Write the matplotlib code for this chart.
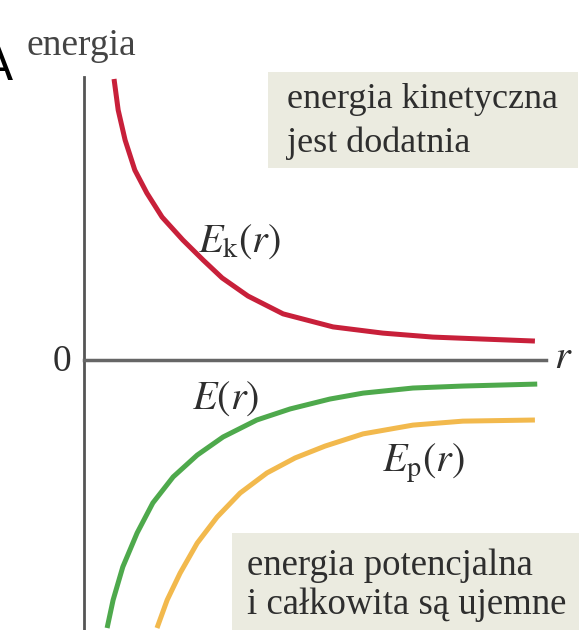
import matplotlib.pyplot as plt
from matplotlib.patches import Rectangle

plt.rcParams['mathtext.fontset'] = 'stix'
plt.rcParams['font.family'] = 'Liberation Serif'

# energy curves, r and energy in arbitrary units
r_k = [0.65, 0.74, 0.89, 1.10, 1.36, 1.69, 2.14, 2.58, 2.99, 3.55, 4.31, 5.39, 6.47, 7.55, 8.64, 9.76]
e_k = [9.93, 8.83, 7.77, 6.71, 5.90, 5.05, 4.24, 3.53, 2.90, 2.26, 1.63, 1.17, 0.95, 0.81, 0.74, 0.67]

r_tot = [0.50, 0.63, 0.84, 1.15, 1.49, 1.93, 2.45, 3.01, 3.74, 4.46, 5.32, 6.04, 7.12, 8.20, 9.81]
e_tot = [-9.47, -8.48, -7.31, -6.11, -5.05, -4.13, -3.36, -2.72, -2.12, -1.73, -1.38, -1.17, -0.99, -0.92, -0.85]

r_p = [1.58, 1.80, 2.08, 2.45, 2.88, 3.38, 3.96, 4.57, 5.22, 6.04, 7.12, 8.20, 9.76]
e_p = [-9.47, -8.48, -7.53, -6.47, -5.55, -4.70, -3.99, -3.46, -3.04, -2.61, -2.30, -2.16, -2.12]

W, H = 579, 630


def fx(px):
    return px / W


def fy(py):
    return 1 - py / H


fig = plt.figure(figsize=(W / 100, H / 100), dpi=100)
ax = fig.add_axes([fx(84), 0, (546 - 84) / W, (630 - 77) / H])
ax.set_xlim(0, 10)
ax.set_ylim(-9.54, 10.0)

style = dict(lw=3.6, solid_capstyle='butt', solid_joinstyle='round')
ax.plot(r_k, e_k, color='#c8203a', **style)
ax.plot(r_tot, e_tot, color='#4ea94c', **style)
ax.plot(r_p, e_p, color='#f2b94d', **style)

for side in ['top', 'right']:
    ax.spines[side].set_visible(False)
ax.spines['bottom'].set_position(('data', 0))
ax.spines['left'].set_color('#555555')
ax.spines['bottom'].set_color('#666666')
ax.spines['left'].set_linewidth(2)
ax.spines['bottom'].set_linewidth(2.5)
ax.set_xticks([])
ax.set_yticks([])
ax.patch.set_alpha(0)

txt = '#2e2e2e'
ax.text(2.47, 4.17, r'$E_\mathrm{k}(r)$', fontsize=29, color=txt, ha='left', va='center')
ax.text(2.33, -1.38, r'$E(r)$', fontsize=29, color=txt, ha='left', va='center')
ax.text(6.45, -3.67, r'$E_\mathrm{p}(r)$', fontsize=29, color=txt, ha='left', va='center')

# shaded text boxes
fig.patches.append(Rectangle((fx(268), fy(168)), (578 - 268) / W, (168 - 72) / H,
                             transform=fig.transFigure, facecolor='#ebebe0', edgecolor='none', zorder=0))
fig.patches.append(Rectangle((fx(232), fy(630)), (580 - 232) / W, (630 - 533) / H,
                             transform=fig.transFigure, facecolor='#ebebe0', edgecolor='none', zorder=0))

fig.text(fx(287), fy(100), 'energia kinetyczna', fontsize=26, color=txt, va='center')
fig.text(fx(287), fy(143), 'jest dodatnia', fontsize=26, color=txt, va='center')
fig.text(fx(247), fy(566), 'energia potencjalna', fontsize=26.5, color=txt, va='center')
fig.text(fx(247), fy(605), 'i całkowita są ujemne', fontsize=26.5, color=txt, va='center')

fig.text(fx(27), fy(46), 'energia', fontsize=27, color='#444444', va='center')
fig.text(fx(62), fy(362), '0', fontsize=27, color=txt, ha='center', va='center')
fig.text(fx(563), fy(359), r'$r$', fontsize=29, color=txt, ha='center', va='center')
fig.text(fx(13), fy(68), 'A', fontsize=34, color='black', ha='right', va='center',
         family='DejaVu Sans')

fig.savefig('out.png', dpi=100)
